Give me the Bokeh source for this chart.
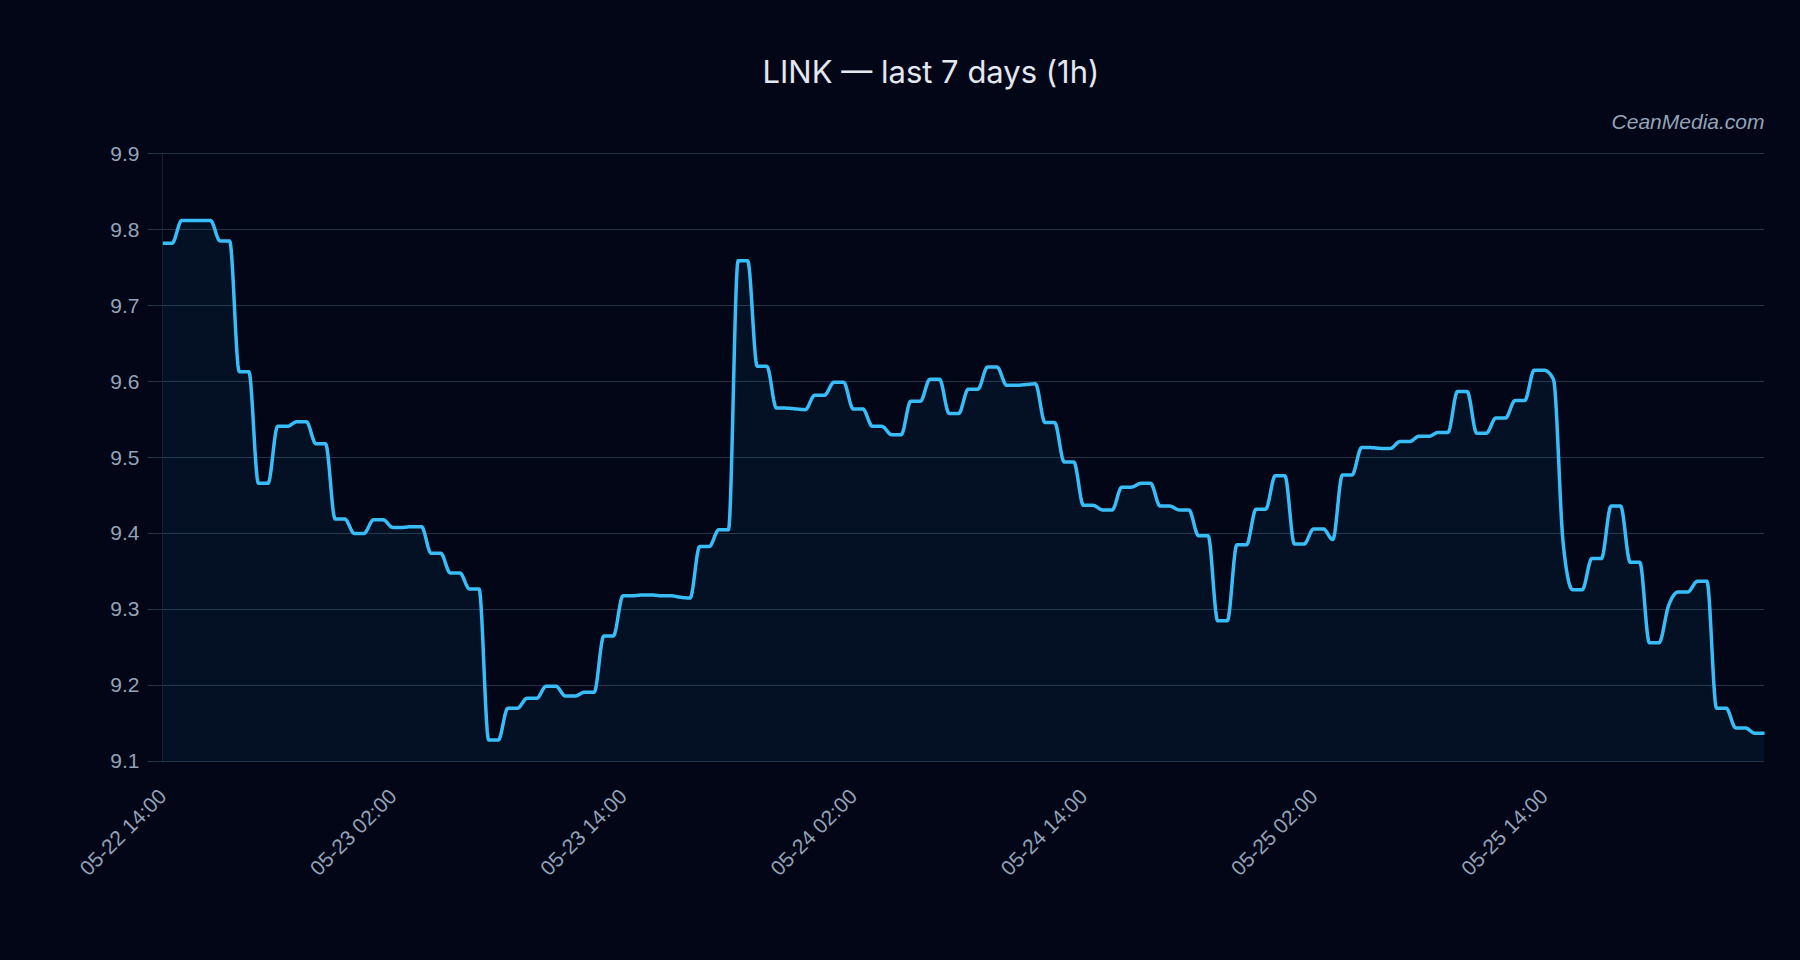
import math
import numpy as np
from bokeh.plotting import figure
from bokeh.models import (Range1d, FixedTicker, DatetimeTickFormatter, Title,
                          ColumnDataSource)
from bokeh.embed import file_html
from bokeh.resources import INLINE

# ---------------- data ----------------
title_text = "LINK \u2014 last 7 days (1h)"
watermark = "CeanMedia.com"
start_time = "2025-05-22 14:00"
step_minutes = 30
y_ticks = [9.1, 9.2, 9.3, 9.4, 9.5, 9.6, 9.7, 9.8, 9.9]
x_tick_hours = [0, 12, 24, 36, 48, 60, 72]

price = [
    9.782, 9.782, 9.812, 9.812, 9.812, 9.812, 9.785, 9.785, 9.613, 9.613,
    9.466, 9.466, 9.541, 9.541, 9.547, 9.547, 9.518, 9.518, 9.419, 9.419,
    9.400, 9.400, 9.418, 9.418, 9.408, 9.408, 9.409, 9.409, 9.374, 9.374,
    9.348, 9.348, 9.327, 9.327, 9.128, 9.128, 9.170, 9.170, 9.183, 9.183,
    9.199, 9.199, 9.186, 9.186, 9.191, 9.191, 9.265, 9.265, 9.318, 9.318,
    9.319, 9.319, 9.318, 9.318, 9.316, 9.315, 9.383, 9.383, 9.405, 9.405,
    9.759, 9.759, 9.620, 9.620, 9.565, 9.565, 9.564, 9.563, 9.582, 9.582,
    9.599, 9.599, 9.564, 9.564, 9.541, 9.541, 9.530, 9.530, 9.574, 9.574,
    9.603, 9.603, 9.558, 9.558, 9.590, 9.590, 9.619, 9.619, 9.595, 9.595,
    9.596, 9.597, 9.546, 9.546, 9.494, 9.494, 9.437, 9.437, 9.431, 9.431,
    9.461, 9.461, 9.466, 9.466, 9.436, 9.436, 9.431, 9.431, 9.397, 9.397,
    9.285, 9.285, 9.385, 9.385, 9.432, 9.432, 9.476, 9.476, 9.386, 9.386,
    9.406, 9.406, 9.392, 9.477, 9.477, 9.513, 9.513, 9.512, 9.512, 9.521,
    9.521, 9.528, 9.528, 9.533, 9.533, 9.587, 9.587, 9.532, 9.532, 9.552,
    9.552, 9.575, 9.575, 9.615, 9.615, 9.603, 9.389, 9.326, 9.326, 9.367,
    9.367, 9.436, 9.436, 9.362, 9.362, 9.256, 9.256, 9.305, 9.323, 9.323,
    9.337, 9.337, 9.170, 9.170, 9.144, 9.144, 9.137, 9.137,
]

# ---------------- monotone cubic rendering (like d3 curveMonotoneX) ----------------
def monotone_curve(ys, samples=14):
    ys = np.asarray(ys, dtype=float)
    n = len(ys)
    xs = np.arange(n, dtype=float)
    s = np.diff(ys)  # h = 1
    t = np.zeros(n)
    for i in range(1, n - 1):
        s0, s1 = s[i - 1], s[i]
        p = (s0 + s1) / 2.0
        t[i] = (np.sign(s0) + np.sign(s1)) * min(abs(s0), abs(s1), 0.5 * abs(p))
    t[0] = (3 * s[0] - t[1]) / 2.0
    t[-1] = (3 * s[-1] - t[-2]) / 2.0
    out_x, out_y = [], []
    for i in range(n - 1):
        x0, x1 = xs[i], xs[i + 1]
        y0, y1 = ys[i], ys[i + 1]
        dx = (x1 - x0) / 3.0
        P = np.array([[x0, y0], [x0 + dx, y0 + dx * t[i]],
                      [x1 - dx, y1 - dx * t[i + 1]], [x1, y1]])
        u = np.linspace(0, 1, samples, endpoint=False)[:, None]
        B = ((1 - u) ** 3) * P[0] + 3 * ((1 - u) ** 2) * u * P[1] + \
            3 * (1 - u) * (u ** 2) * P[2] + (u ** 3) * P[3]
        out_x.extend(B[:, 0]); out_y.extend(B[:, 1])
    out_x.append(xs[-1]); out_y.append(ys[-1])
    return np.array(out_x), np.array(out_y)

t0_ms = np.datetime64(start_time).astype("datetime64[ms]").astype(np.int64)
step_ms = step_minutes * 60 * 1000

cx, cy = monotone_curve(price)
cx_ms = t0_ms + cx * step_ms
src = ColumnDataSource(dict(x=cx_ms, y=cy))

x_start = float(t0_ms)
x_end = float(t0_ms + (len(price) - 1) * step_ms)
y_lo, y_hi = y_ticks[0], y_ticks[-1]
pad = 0.0015

BG = "#020617"
GRID = "#334155"
LABEL = "#94a3b8"

p = figure(width=1800, height=960, x_axis_type="datetime",
           output_backend="svg", toolbar_location=None,
           x_range=Range1d(x_start, x_end), y_range=Range1d(y_lo - pad, y_hi + pad),
           min_border_left=162, min_border_right=36,
           min_border_top=152, min_border_bottom=198)
p.background_fill_color = None
p.border_fill_color = None
p.styles = {"background-color": BG}
p.outline_line_color = None

p.varea(x="x", y1=y_lo, y2="y", source=src, fill_color="#38bdf8", fill_alpha=0.06)
p.line(x="x", y="y", source=src, line_color="#38bdf8", line_width=3.5,
       line_join="round", line_cap="round")

# grid
p.xgrid.grid_line_color = None
p.ygrid.grid_line_color = GRID
p.ygrid.grid_line_alpha = 0.75
p.ygrid.grid_line_width = 1

# y axis
p.yaxis.ticker = FixedTicker(ticks=y_ticks)
p.yaxis.axis_line_color = "#1e293b"
p.yaxis.axis_line_alpha = 0.7
p.yaxis.major_tick_line_color = GRID
p.yaxis.major_tick_line_alpha = 0.75
p.yaxis.major_tick_out = 15
p.yaxis.major_tick_in = 0
p.yaxis.minor_tick_line_color = None
p.yaxis.major_label_standoff = 8
p.yaxis.major_label_text_font = "Liberation Sans"
p.yaxis.major_label_text_font_size = "21px"
p.yaxis.major_label_text_color = LABEL

# x axis
p.xaxis.ticker = FixedTicker(ticks=[x_start + h * 3600 * 1000 for h in x_tick_hours])
fmt = "%m-%d %H:%M"
p.xaxis.formatter = DatetimeTickFormatter(
    microseconds=fmt, milliseconds=fmt, seconds=fmt, minsec=fmt, minutes=fmt,
    hourmin=fmt, hours=fmt, days=fmt, months=fmt, years=fmt)
p.xaxis.axis_line_color = None
p.xaxis.major_tick_line_color = None
p.xaxis.minor_tick_line_color = None
p.xaxis.major_tick_out = 0
p.xaxis.major_label_orientation = math.pi / 4
p.xaxis.major_label_standoff = 30
p.xaxis.major_label_text_font = "Liberation Sans"
p.xaxis.major_label_text_font_size = "21px"
p.xaxis.major_label_text_color = LABEL

# watermark (closest to frame) and title
p.add_layout(Title(text=watermark, align="right", text_font="Liberation Sans",
                   text_font_style="italic", text_font_size="21px",
                   text_color=LABEL, standoff=40), "above")
p.add_layout(Title(text=title_text, align="left", offset=600,
                   text_font="Inter", text_font_style="normal",
                   text_font_size="31px", text_color="#e2e8f0", standoff=-5), "above")

open("out.html", "w").write(file_html(p, INLINE))
